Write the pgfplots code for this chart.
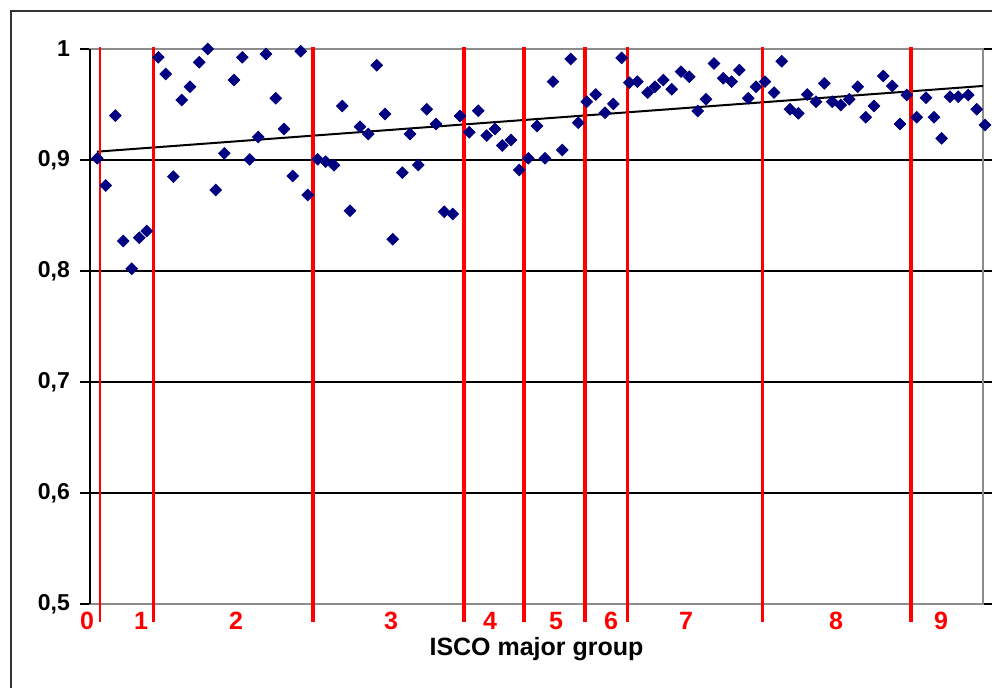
\documentclass[border=0pt]{standalone}
\usepackage{pgfplots}
\pgfplotsset{compat=1.18}
\usepackage{fontspec}
\setmainfont{Liberation Sans}
\definecolor{navyd}{RGB}{0,0,128}
\definecolor{bordergrey}{RGB}{140,140,140}
\tikzset{redlab/.style={red, anchor=base, inner sep=0pt, font=\bfseries\fontsize{12.5}{14}\selectfont}}
\begin{document}
\begin{tikzpicture}
\begin{axis}[
  at={(45pt,42pt)}, anchor=south west,
  scale only axis, width=446.5pt, height=277.5pt,
  xmin=90, xmax=983, ymin=0.5, ymax=1,
  clip=false,
  axis line style={bordergrey, line width=0.8pt},
  xtick=\empty,
  ytick={0.5,0.6,0.7,0.8,0.9,1},
  ymajorgrids,
  grid style={black, line width=0.6pt},
  tick align=outside,
  major tick length=5pt,
  ytick style={black, line width=0.6pt},
  yticklabel style={font=\bfseries\fontsize{11.5}{13}\selectfont, xshift=-1.5pt},
  /pgf/number format/.cd, use comma, assume math mode=true,
  /pgfplots/.cd,
  every axis x label/.style={at={(rel axis cs:0.5,0)}, anchor=base, yshift=-26pt},
  xlabel={\bfseries\fontsize{12.5}{14}\selectfont ISCO major group},
]
% scatter points
\addplot[only marks, mark=square*, mark size=2.05pt, mark options={rotate=45, fill=navyd, draw=navyd}] coordinates {
(97.3,0.9015) (105.7,0.877) (115.3,0.940) (123.3,0.827) (131.7,0.802)
(139.3,0.830) (146.7,0.836) (158.3,0.9925) (165.7,0.9775) (173.3,0.885)
(181.7,0.954) (190.0,0.966) (199.3,0.988) (207.7,1.000) (215.7,0.873)
(224.3,0.906) (234.0,0.972) (242.3,0.9925) (249.7,0.9005)
(258.3,0.9207) (266.0,0.9955) (275.7,0.9556) (284.0,0.928) (292.7,0.8856)
(300.7,0.998) (307.7,0.8685) (317.7,0.9006) (325.7,0.8985) (334.0,0.8952)
(342.3,0.9486) (350.0,0.8543) (360.0,0.930) (368.3,0.9234) (376.7,0.9853)
(385.0,0.9414) (392.7,0.8286) (402.3,0.8886) (410.0,0.9234)
(418.3,0.8955) (426.7,0.9457) (436.0,0.9324) (444.3,0.8534) (452.7,0.8514)
(460.0,0.9396) (469.3,0.925) (478.3,0.9444) (486.7,0.922) (495.0,0.928)
(502.3,0.913) (511.0,0.918) (519.3,0.891) (528.3,0.9015) (537.0,0.9306)
(545.0,0.9015) (553.0,0.9706) (562.3,0.909) (570.7,0.991)
(578.3,0.9336) (586.7,0.9525) (595.7,0.959) (605.0,0.9426) (613.3,0.9505)
(621.7,0.992) (629.3,0.9697) (637.3,0.9706) (647.7,0.9607) (655.0,0.966)
(663.3,0.972) (671.7,0.9637) (681.0,0.9796) (689.3,0.975) (697.7,0.9441)
(706.0,0.9547) (714.0,0.987) (723.3,0.9736) (731.7,0.9706) (739.3,0.981)
(748.3,0.9556) (756.0,0.966) (765.0,0.9706) (774.0,0.9607) (781.7,0.989)
(790.0,0.9457) (798.3,0.942) (807.3,0.959) (816.0,0.9525) (824.3,0.969)
(832.3,0.9525) (840.7,0.9495) (849.3,0.9547) (857.7,0.966) (865.7,0.9385)
(874.0,0.9486) (883.3,0.9757) (892.3,0.9667) (900.0,0.9324) (906.7,0.9586)
(916.7,0.9385) (926.0,0.956) (934.0,0.9385) (941.7,0.9195) (950.0,0.957)
(958.3,0.957) (968.3,0.9586) (976.7,0.9457) (985.0,0.9315)
};
% trend line
\addplot[black, line width=1pt, no marks] coordinates {(97,0.9075) (983,0.9667)};
% red separators
\addplot[red, line width=1.3pt, no marks] coordinates {(100,0.4838) (100,1.0018)};
\addplot[red, line width=1.5pt, no marks] coordinates {(153.5,0.4838) (153.5,1.0018)};
\addplot[red, line width=2.2pt, no marks] coordinates {(313,0.4838) (313,1.0018)};
\addplot[red, line width=2.2pt, no marks] coordinates {(463.7,0.4838) (463.7,1.0018)};
\addplot[red, line width=2.2pt, no marks] coordinates {(524,0.4838) (524,1.0018)};
\addplot[red, line width=2.2pt, no marks] coordinates {(585,0.4838) (585,1.0018)};
\addplot[red, line width=1.5pt, no marks] coordinates {(627,0.4838) (627,1.0018)};
\addplot[red, line width=1.3pt, no marks] coordinates {(762.3,0.4838) (762.3,1.0018)};
\addplot[red, line width=2.2pt, no marks] coordinates {(910.8,0.4838) (910.8,1.0018)};
% left axis line black
\draw[black, line width=0.8pt] (rel axis cs:0,0) -- (rel axis cs:0,1);
% red group labels
\node[redlab] at (axis cs:87,0.477) {0};
\node[redlab] at (axis cs:141,0.477) {1};
\node[redlab] at (axis cs:236,0.477) {2};
\node[redlab] at (axis cs:391,0.477) {3};
\node[redlab] at (axis cs:490,0.477) {4};
\node[redlab] at (axis cs:556,0.477) {5};
\node[redlab] at (axis cs:611,0.477) {6};
\node[redlab] at (axis cs:686,0.477) {7};
\node[redlab] at (axis cs:836,0.477) {8};
\node[redlab] at (axis cs:941,0.477) {9};
\end{axis}
\draw[black!80, line width=1pt] (5.5pt,0) -- (5.5pt,338.5pt) -- (496pt,338.5pt);
\pgfresetboundingbox
\useasboundingbox (0,0) rectangle (496pt,344pt);
\end{tikzpicture}
\end{document}
